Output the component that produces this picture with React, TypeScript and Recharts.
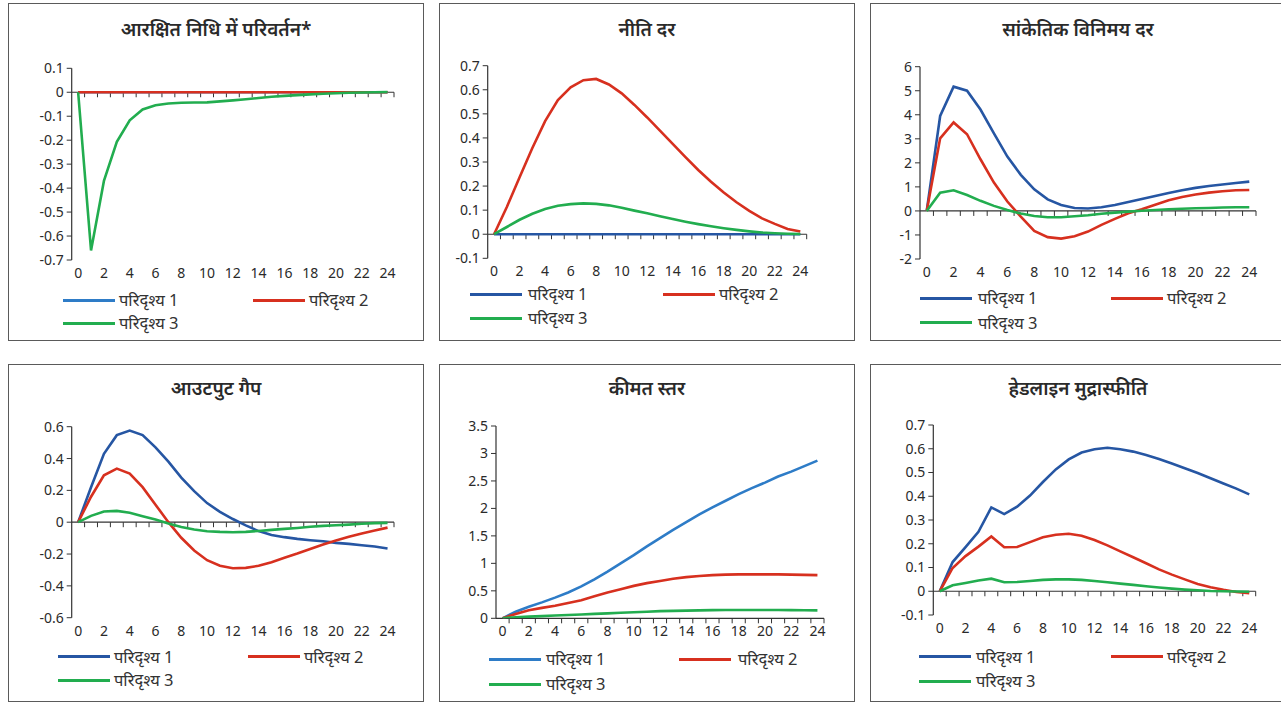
import React from 'react';
import { LineChart, Line, XAxis, YAxis, ReferenceLine } from 'recharts';

// ---------- data ----------
const T = [0, 1, 2, 3, 4, 5, 6, 7, 8, 9, 10, 11, 12, 13, 14, 15, 16, 17, 18, 19, 20, 21, 22, 23, 24];
const X_TICKS = [0, 2, 4, 6, 8, 10, 12, 14, 16, 18, 20, 22, 24];
const SCENARIOS = ['परिदृश्य 1', 'परिदृश्य 2', 'परिदृश्य 3'];
const TITLES = [
  'आरक्षित निधि में परिवर्तन*',
  'नीति दर',
  'सांकेतिक विनिमय दर',
  'आउटपुट गैप',
  'कीमत स्तर',
  'हेडलाइन मुद्रास्फीति',
];

const P1_Y_TICKS = [0.1, 0, -0.1, -0.2, -0.3, -0.4, -0.5, -0.6, -0.7];
const P1_S1 = [0, 0, 0, 0, 0, 0, 0, 0, 0, 0, 0, 0, 0, 0, 0, 0, 0, 0, 0, 0, 0, 0, 0, 0, 0];
const P1_S2 = [0, 0, 0, 0, 0, 0, 0, 0, 0, 0, 0, 0, 0, 0, 0, 0, 0, 0, 0, 0, 0, 0, 0, 0, 0];
const P1_S3 = [0, -0.66, -0.37, -0.207, -0.117, -0.072, -0.054, -0.047, -0.044, -0.043, -0.042, -0.038, -0.034, -0.029, -0.024, -0.019, -0.015, -0.012, -0.009, -0.006, -0.004, -0.002, -0.001, 0, 0.001];

const P2_Y_TICKS = [0.7, 0.6, 0.5, 0.4, 0.3, 0.2, 0.1, 0, -0.1];
const P2_S1 = [0, 0, 0, 0, 0, 0, 0, 0, 0, 0, 0, 0, 0, 0, 0, 0, 0, 0, 0, 0, 0, 0, 0, 0, 0];
const P2_S2 = [0, 0.113, 0.237, 0.358, 0.47, 0.557, 0.61, 0.64, 0.645, 0.622, 0.585, 0.537, 0.485, 0.43, 0.375, 0.32, 0.267, 0.218, 0.173, 0.133, 0.097, 0.066, 0.043, 0.022, 0.011];
const P2_S3 = [0, 0.03, 0.06, 0.085, 0.105, 0.118, 0.125, 0.128, 0.126, 0.12, 0.11, 0.098, 0.087, 0.075, 0.063, 0.052, 0.042, 0.033, 0.025, 0.018, 0.012, 0.007, 0.004, 0.002, 0.001];

const P3_Y_TICKS = [6, 5, 4, 3, 2, 1, 0, -1, -2];
const P3_S1 = [0, 3.95, 5.17, 5.0, 4.22, 3.23, 2.26, 1.5, 0.9, 0.48, 0.25, 0.12, 0.1, 0.15, 0.25, 0.37, 0.5, 0.62, 0.75, 0.86, 0.96, 1.04, 1.1, 1.16, 1.22];
const P3_S2 = [0, 3.02, 3.68, 3.19, 2.15, 1.18, 0.39, -0.24, -0.83, -1.09, -1.15, -1.05, -0.86, -0.58, -0.33, -0.1, 0.07, 0.26, 0.44, 0.58, 0.68, 0.76, 0.82, 0.86, 0.87];
const P3_S3 = [0, 0.76, 0.86, 0.66, 0.42, 0.21, 0.04, -0.11, -0.21, -0.26, -0.26, -0.22, -0.18, -0.12, -0.07, -0.03, 0.01, 0.04, 0.07, 0.09, 0.11, 0.12, 0.14, 0.15, 0.15];

const P4_Y_TICKS = [0.6, 0.4, 0.2, 0, -0.2, -0.4, -0.6];
const P4_S1 = [0, 0.22, 0.43, 0.547, 0.576, 0.547, 0.47, 0.38, 0.28, 0.195, 0.12, 0.065, 0.02, -0.02, -0.056, -0.08, -0.094, -0.105, -0.113, -0.12, -0.13, -0.136, -0.145, -0.153, -0.165];
const P4_S2 = [0, 0.16, 0.295, 0.337, 0.306, 0.22, 0.11, 0.0, -0.098, -0.178, -0.239, -0.274, -0.289, -0.287, -0.274, -0.251, -0.224, -0.197, -0.168, -0.14, -0.115, -0.092, -0.071, -0.052, -0.034];
const P4_S3 = [0, 0.04, 0.067, 0.071, 0.059, 0.038, 0.017, -0.008, -0.03, -0.046, -0.057, -0.061, -0.063, -0.061, -0.055, -0.048, -0.042, -0.036, -0.029, -0.023, -0.019, -0.015, -0.01, -0.006, -0.004];

const P5_Y_TICKS = [3.5, 3, 2.5, 2, 1.5, 1, 0.5, 0];
const P5_S1 = [0, 0.12, 0.21, 0.29, 0.376, 0.47, 0.58, 0.71, 0.85, 1.0, 1.15, 1.31, 1.46, 1.61, 1.75, 1.89, 2.02, 2.14, 2.26, 2.37, 2.47, 2.58, 2.67, 2.77, 2.87];
const P5_S2 = [0, 0.08, 0.145, 0.19, 0.23, 0.28, 0.33, 0.4, 0.47, 0.53, 0.59, 0.64, 0.68, 0.72, 0.75, 0.77, 0.785, 0.795, 0.8, 0.8, 0.8, 0.8, 0.795, 0.79, 0.785];
const P5_S3 = [0, 0.02, 0.03, 0.04, 0.05, 0.06, 0.07, 0.08, 0.09, 0.1, 0.11, 0.12, 0.13, 0.135, 0.14, 0.145, 0.148, 0.15, 0.15, 0.15, 0.15, 0.15, 0.148, 0.146, 0.145];

const P6_Y_TICKS = [0.7, 0.6, 0.5, 0.4, 0.3, 0.2, 0.1, 0, -0.1];
const P6_S1 = [0, 0.123, 0.186, 0.25, 0.353, 0.325, 0.356, 0.403, 0.46, 0.513, 0.555, 0.584, 0.598, 0.604, 0.598, 0.588, 0.574, 0.557, 0.538, 0.518, 0.498, 0.476, 0.454, 0.432, 0.408];
const P6_S2 = [0, 0.098, 0.148, 0.188, 0.231, 0.185, 0.186, 0.207, 0.227, 0.238, 0.242, 0.234, 0.216, 0.193, 0.168, 0.143, 0.118, 0.092, 0.07, 0.05, 0.031, 0.017, 0.006, -0.003, -0.008];
const P6_S3 = [0, 0.025, 0.035, 0.045, 0.053, 0.038, 0.039, 0.043, 0.048, 0.05, 0.05, 0.048, 0.043, 0.038, 0.032, 0.027, 0.021, 0.016, 0.011, 0.007, 0.004, 0.001, 0, -0.001, -0.002];

// ---------- styling ----------
const FONT = "'Noto Sans', 'Noto Sans Devanagari', 'Lohit Devanagari', 'Open Sans', sans-serif";
const BLUE_LIGHT = '#2e7cc7';
const BLUE_DARK = '#2656a3';
const RED = '#d7301f';
const GREEN = '#22ad4f';
const AXIS = '#333333';

const PANEL_W = 416;
const PANEL_H = 338;

type Layout = {
  left: number; top: number;
  plotLeft: number; plotTop: number; plotRight: number; plotBottom: number;
  titleY: number;
  legRow1: number; legRow2: number;
  leg1Line: number; leg1Text: number; leg2Line: number; leg2Text: number;
};

const LAYOUTS: Layout[] = [
  { left: 8, top: 3, plotLeft: 63.7, plotTop: 65.3, plotRight: 386, plotBottom: 257, titleY: 26, legRow1: 297, legRow2: 320, leg1Line: 55, leg1Text: 111, leg2Line: 245, leg2Text: 301 },
  { left: 439, top: 3, plotLeft: 48.7, plotTop: 62.7, plotRight: 367.7, plotBottom: 255.3, titleY: 26, legRow1: 291, legRow2: 315, leg1Line: 31, leg1Text: 89, leg2Line: 224, leg2Text: 280 },
  { left: 870, top: 3, plotLeft: 50, plotTop: 63.7, plotRight: 386, plotBottom: 256, titleY: 26, legRow1: 295, legRow2: 319.7, leg1Line: 50, leg1Text: 108, leg2Line: 241, leg2Text: 297 },
  { left: 8, top: 364, plotLeft: 63.7, plotTop: 62.7, plotRight: 386, plotBottom: 253.7, titleY: 24.3, legRow1: 292.7, legRow2: 316, leg1Line: 50, leg1Text: 106, leg2Line: 240, leg2Text: 296 },
  { left: 439, top: 364, plotLeft: 57, plotTop: 62, plotRight: 385, plotBottom: 254.3, titleY: 24, legRow1: 295, legRow2: 320, leg1Line: 50, leg1Text: 107, leg2Line: 240, leg2Text: 299 },
  { left: 870, top: 364, plotLeft: 63.3, plotTop: 61, plotRight: 385.7, plotBottom: 251, titleY: 24, legRow1: 292.7, legRow2: 317, leg1Line: 49, leg1Text: 106, leg2Line: 241, leg2Text: 297 },
];

type PanelDef = { title: string; yTicks: number[]; s1: number[]; s2: number[]; s3: number[]; blue: string };

const PANELS: PanelDef[] = [
  { title: TITLES[0], yTicks: P1_Y_TICKS, s1: P1_S1, s2: P1_S2, s3: P1_S3, blue: BLUE_LIGHT },
  { title: TITLES[1], yTicks: P2_Y_TICKS, s1: P2_S1, s2: P2_S2, s3: P2_S3, blue: BLUE_DARK },
  { title: TITLES[2], yTicks: P3_Y_TICKS, s1: P3_S1, s2: P3_S2, s3: P3_S3, blue: BLUE_DARK },
  { title: TITLES[3], yTicks: P4_Y_TICKS, s1: P4_S1, s2: P4_S2, s3: P4_S3, blue: BLUE_DARK },
  { title: TITLES[4], yTicks: P5_Y_TICKS, s1: P5_S1, s2: P5_S2, s3: P5_S3, blue: BLUE_LIGHT },
  { title: TITLES[5], yTicks: P6_Y_TICKS, s1: P6_S1, s2: P6_S2, s3: P6_S3, blue: BLUE_DARK },
];

// x-axis line drawn at y = 0 with tick marks between categories
const ZeroAxis = (props: any) => {
  const { x1, x2, y1 } = props;
  const n = T.length;
  const marks: React.ReactNode[] = [];
  for (let k = 1; k <= n; k++) {
    const x = x1 + ((x2 - x1) * k) / n;
    marks.push(<line key={k} x1={x} x2={x} y1={y1} y2={y1 + 5} stroke={AXIS} strokeWidth={1} />);
  }
  return (
    <g>
      <line x1={x1} x2={x2} y1={y1} y2={y1} stroke={AXIS} strokeWidth={1.2} />
      {marks}
    </g>
  );
};

const Panel = ({ def, lay }: { def: PanelDef; lay: Layout }) => {
  const data = T.map((t, i) => ({ t, s1: def.s1[i], s2: def.s2[i], s3: def.s3[i] }));
  const cw = PANEL_W - 2;
  const ch = PANEL_H - 2;
  const pl = lay.plotLeft - 1;
  const pt = lay.plotTop - 1;
  const pr = lay.plotRight - 1;
  const pb = lay.plotBottom - 1;
  const yMin = Math.min(...def.yTicks);
  const yMax = Math.max(...def.yTicks);
  const colors = [def.blue, RED, GREEN];
  const legItems = [
    { name: SCENARIOS[0], color: colors[0], line: lay.leg1Line, text: lay.leg1Text, row: lay.legRow1 },
    { name: SCENARIOS[1], color: colors[1], line: lay.leg2Line, text: lay.leg2Text, row: lay.legRow1 },
    { name: SCENARIOS[2], color: colors[2], line: lay.leg1Line, text: lay.leg1Text, row: lay.legRow2 },
  ];
  return (
    <div
      style={{
        position: 'absolute', left: lay.left, top: lay.top, width: PANEL_W, height: PANEL_H,
        boxSizing: 'border-box', border: '1px solid #5a5a5a', background: '#fff', fontFamily: FONT,
      }}
    >
      <div
        style={{
          position: 'absolute', left: 0, top: lay.titleY - 1 - 14, width: cw, height: 28,
          lineHeight: '28px', textAlign: 'center', fontWeight: 600, fontSize: 19, color: '#2a2a2a',
        }}
      >
        {def.title}
      </div>
      <div style={{ position: 'absolute', left: 0, top: 0 }}>
        <LineChart
          width={cw}
          height={ch}
          data={data}
          margin={{ top: pt, right: cw - pr, bottom: 0, left: 0 }}
        >
          <XAxis
            dataKey="t"
            type="number"
            domain={[-0.5, 24.5]}
            ticks={X_TICKS}
            interval={0}
            axisLine={false}
            tickLine={false}
            height={ch - pb}
            allowDataOverflow
            tick={{ fill: '#2a2a2a', fontSize: 14, fontFamily: FONT }}
          />
          <YAxis
            type="number"
            domain={[yMin, yMax]}
            ticks={def.yTicks}
            interval={0}
            width={pl}
            allowDataOverflow
            axisLine={{ stroke: AXIS, strokeWidth: 1.2 }}
            tickLine={{ stroke: AXIS }}
            tickSize={5}
            tickMargin={3}
            tick={{ fill: '#2a2a2a', fontSize: 14, fontFamily: FONT }}
          />
          <ReferenceLine y={0} shape={ZeroAxis} ifOverflow="visible" />
          <Line dataKey="s1" type="linear" stroke={colors[0]} strokeWidth={2.6} dot={false} isAnimationActive={false} />
          <Line dataKey="s2" type="linear" stroke={colors[1]} strokeWidth={2.6} dot={false} isAnimationActive={false} />
          <Line dataKey="s3" type="linear" stroke={colors[2]} strokeWidth={2.6} dot={false} isAnimationActive={false} />
        </LineChart>
      </div>
      {legItems.map((it) => (
        <React.Fragment key={it.name}>
          <div
            style={{
              position: 'absolute', left: it.line - 1, top: it.row - 1 - 1.5, width: 52, height: 3,
              background: it.color,
            }}
          />
          <div
            style={{
              position: 'absolute', left: it.text - 1, top: it.row - 1 - 12, height: 24,
              lineHeight: '24px', fontSize: 16.5, color: '#333', whiteSpace: 'nowrap',
            }}
          >
            {it.name}
          </div>
        </React.Fragment>
      ))}
    </div>
  );
}

export default function App() {
  return (
    <div
      style={{
        position: 'fixed', left: 0, top: 0, width: 1281, height: 702, overflow: 'hidden', background: '#fff',
      }}
    >
      {PANELS.map((def, i) => (
        <Panel key={i} def={def} lay={LAYOUTS[i]} />
      ))}
    </div>
  );
}
